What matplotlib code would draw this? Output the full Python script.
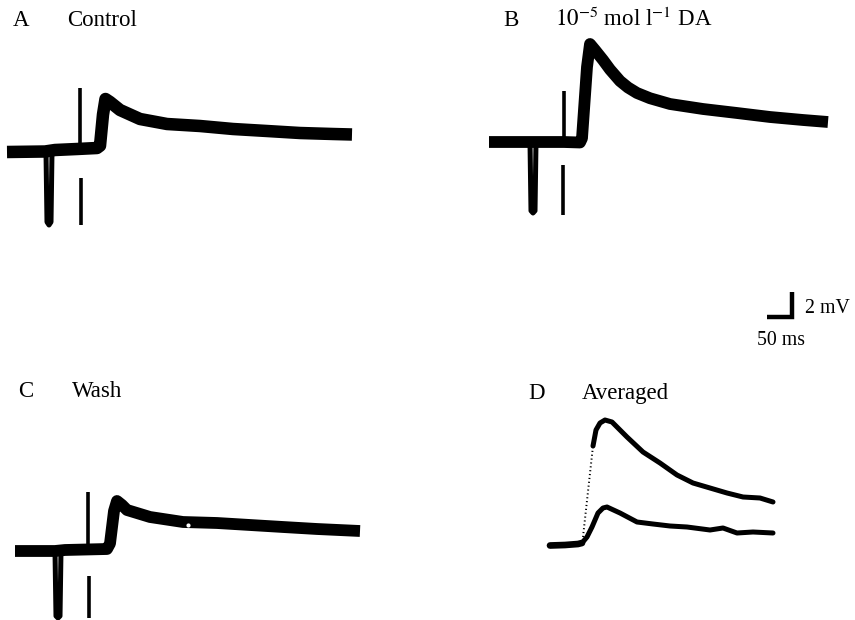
import matplotlib
matplotlib.use("Agg")
import numpy as np
import matplotlib.pyplot as plt

plt.rcParams["font.family"] = ["Liberation Serif", "DejaVu Serif"]
plt.rcParams["mathtext.fontset"] = "stix"

# A: control
ctrl_t = [0, 76, 96, 140, 180, 186, 192, 197, 206, 226, 266, 320, 386, 452, 520, 586, 652, 690]
ctrl_v = [0, 0.04, 0.16, 0.24, 0.32, 0.5, 3.0, 4.24, 4.0, 3.36, 2.64, 2.24, 2.08, 1.84, 1.68, 1.52, 1.44, 1.4]
ctrl_dip_t = [78, 80, 84, 88, 90]
ctrl_dip_v = [0.0, -5.6, -5.84, -5.6, 0.1]
ctrl_spike = (145, 0.3, 5.12)      # t, from, to
ctrl_bar = (147, -2.08, -5.84)

# B: 10^-5 mol/l dopamine
da_t = [0, 82, 102, 150, 182, 186, 196, 202, 212, 228, 242, 262, 278, 296, 322, 362, 428, 496, 562, 628, 678]
da_v = [0, 0, 0, 0, -0.04, 0.3, 6.0, 7.84, 7.36, 6.56, 5.8, 4.88, 4.36, 3.92, 3.5, 3.04, 2.64, 2.32, 2.0, 1.76, 1.6]
da_dip_t = [82, 84, 88, 92, 94]
da_dip_v = [0.0, -5.5, -5.68, -5.5, 0.0]
da_spike = (149, 0.0, 4.08)
da_bar = (148, -1.84, -5.84)

# C: wash
wash_t = [0, 80, 100, 184, 190, 198, 204, 214, 224, 270, 336, 404, 470, 536, 604, 690]
wash_v = [0, 0, 0.08, 0.16, 0.6, 3.2, 4.0, 3.68, 3.28, 2.72, 2.32, 2.24, 2.08, 1.92, 1.76, 1.6]
wash_dip_t = [80, 82, 86, 90, 92]
wash_dip_v = [0.0, -5.2, -5.36, -5.2, 0.08]
wash_spike = (146, 0.1, 4.72)
wash_bar = (148, -2.0, -5.36)
wash_speck = (346, 2.1)

# D: averaged responses
avg_base_t = [0, 30, 56, 64]
avg_base_v = [0, 0.04, 0.12, 0.2]
avg_ctrl_t = [64, 74, 84, 96, 106, 114, 140, 174, 206, 240, 274, 320, 346, 374, 406, 446]
avg_ctrl_v = [0.2, 0.68, 1.48, 2.6, 3.0, 3.08, 2.6, 1.88, 1.72, 1.56, 1.48, 1.24, 1.4, 1.0, 1.08, 1.0]
avg_rise_t = [66, 86]
avg_rise_v = [0.68, 7.96]
avg_da_t = [86, 92, 100, 110, 124, 134, 154, 186, 220, 254, 286, 320, 354, 386, 420, 446]
avg_da_v = [7.96, 9.24, 9.8, 10.04, 9.88, 9.48, 8.68, 7.48, 6.6, 5.64, 5.0, 4.6, 4.2, 3.88, 3.8, 3.48]

# scale bar
bar_ms = 50
bar_mv = 2

W, H = 855, 620
MS_PER_PX = 2.0
MV_PER_PX = 0.08

fig = plt.figure(figsize=(W / 100, H / 100), dpi=100)


def trace_axes(x0, y0, t_lo=-20, t_hi=720, v_lo=-7, v_hi=11):
    # axes whose (0 ms, 0 mV) sits at pixel (x0, y0), same scale for every panel
    left = x0 + t_lo / MS_PER_PX
    right = x0 + t_hi / MS_PER_PX
    top = y0 - v_hi / MV_PER_PX
    bottom = y0 - v_lo / MV_PER_PX
    ax = fig.add_axes([left / W, 1 - bottom / H, (right - left) / W, (bottom - top) / H])
    ax.set_xlim(t_lo, t_hi)
    ax.set_ylim(v_lo, v_hi)
    ax.axis("off")
    return ax


def draw_sweep(ax, t, v, dip_t, dip_v, spike, bar, lw):
    ax.plot(t, v, color="black", lw=lw, solid_capstyle="butt", solid_joinstyle="round", clip_on=False)
    ax.plot(dip_t, dip_v, color="black", lw=3.6, solid_capstyle="round", clip_on=False)
    ax.plot([spike[0], spike[0]], [spike[1], spike[2]], color="black", lw=2.6, solid_capstyle="butt", clip_on=False)
    ax.plot([bar[0], bar[0]], [bar[1], bar[2]], color="black", lw=2.6, solid_capstyle="butt", clip_on=False)


ax_a = trace_axes(7, 152)
draw_sweep(ax_a, ctrl_t, ctrl_v, ctrl_dip_t, ctrl_dip_v, ctrl_spike, ctrl_bar, 9)

ax_b = trace_axes(489, 142)
draw_sweep(ax_b, da_t, da_v, da_dip_t, da_dip_v, da_spike, da_bar, 8.5)

ax_c = trace_axes(15, 551)
draw_sweep(ax_c, wash_t, wash_v, wash_dip_t, wash_dip_v, wash_spike, wash_bar, 8.5)
ax_c.plot([wash_speck[0]], [wash_speck[1]], "o", color="white", ms=3, mec="none", clip_on=False)

ax_d = trace_axes(550, 545.5)
ax_d.plot(avg_base_t, avg_base_v, color="black", lw=4.8, solid_capstyle="round", clip_on=False)
ax_d.plot(avg_ctrl_t, avg_ctrl_v, color="black", lw=3.6, solid_capstyle="round", clip_on=False)
ax_d.plot(avg_rise_t, avg_rise_v, color="black", lw=1.4, ls=(0, (0.6, 1.4)), clip_on=False)
ax_d.plot(avg_da_t, avg_da_v, color="black", lw=3.6, solid_capstyle="round", clip_on=False)

ax_s = trace_axes(767, 317, t_lo=-10, t_hi=60, v_lo=-1, v_hi=3)
ax_s.plot([0, bar_ms, bar_ms], [0, 0, bar_mv], color="black", lw=3.2,
          solid_capstyle="butt", solid_joinstyle="miter", clip_on=False)


def label(x, y, s, size=16.5):
    fig.text(x / W, 1 - y / H, s, fontsize=size, ha="left", va="baseline")


label(13, 26, "A")
label(67, 26, "Control")
label(503, 26, "B")
label(555, 26, r"$10^{-5}$ mol l$^{-1}$ DA")
label(805, 313, "2 mV", size=14.3)
label(757, 345, "50 ms", size=14.3)
label(18, 397, "C")
label(72, 397, "Wash")
label(528, 399, "D")
label(582, 399, "Averaged")

fig.savefig("out.png", dpi=100, facecolor="white")
